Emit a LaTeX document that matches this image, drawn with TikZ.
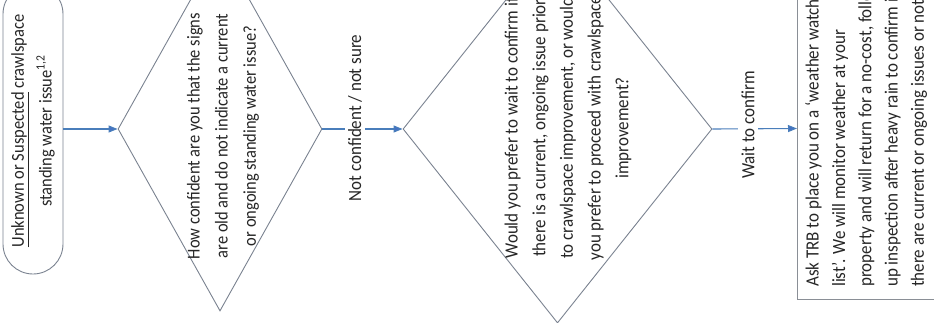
\documentclass[tikz,border=0pt]{standalone}
\usepackage{fontspec}
\setmainfont{Carlito}
\usetikzlibrary{shapes.geometric, arrows.meta}

\begin{document}
\begin{tikzpicture}[x=1pt, y=1pt,
  startbox/.style={draw=shapec, line width=0.9pt, rectangle, rounded corners=30pt, inner sep=0pt},
  decision/.style={draw=shapec, line width=0.9pt, diamond, inner sep=0pt},
  actbox/.style={draw=boxc, line width=1pt, rectangle, inner sep=0pt},
  txt/.style={rotate=90, yscale=1.1, align=center, inner sep=0pt, text=txtc, font=\fontsize{17}{25.2}\selectfont},
  lbl/.style={rotate=90, yscale=1.1, fill=white, inner sep=3pt, text=txtc, font=\fontsize{17}{20}\selectfont},
  flow/.style={draw=flowc, line width=1.1pt, -{Triangle[length=9pt, width=7pt, fill=tipc]}}]

% flowchart colours
\definecolor{txtc}{HTML}{262626}
\definecolor{shapec}{HTML}{7A8290}
\definecolor{boxc}{HTML}{8A8F96}
\definecolor{flowc}{HTML}{4A7EBB}
\definecolor{tipc}{HTML}{4472C4}

\useasboundingbox (0,0) rectangle (934,322);
\clip (0,0) rectangle (934,322);

%% shapes
\node [startbox, minimum width=60pt, minimum height=290pt] at (33,193) (start) {};
\node [decision, minimum width=204pt, minimum height=364pt] at (220,193) (q1) {};
\node [decision, minimum width=309pt, minimum height=388pt] at (557.5,193) (q2) {};
\node [actbox, minimum width=220pt, minimum height=342pt, anchor=south west] at (797,22) (act) {};

%% texts
\node [txt, font=\fontsize{16.5}{25.2}\selectfont] at (33,191) (starttxt) {\underline{Unknown or Suspected} crawlspace\\standing water issue\textsuperscript{1,2}};
\node [txt, font=\fontsize{16.5}{25.5}\selectfont] at (223,186) (q1txt) {How confident are you that the signs\\are old and do not indicate a current\\or ongoing standing water issue?};
\node [txt] at (568,194) (q2txt) {Would you prefer to wait to confirm if\\there is a current, ongoing issue prior\\to crawlspace improvement, or would\\you prefer to proceed with crawlspace\\improvement?};
\node [txt, align=left, anchor=north west, font=\fontsize{17}{23.9}\selectfont] at (805,35) (acttxt) {Ask TRB to place you on a ‘weather watch\\list’. We will monitor weather at your\\property and will return for a no-cost, follow-\\up inspection after heavy rain to confirm if\\there are current or ongoing issues or not.};

%% connectors
\draw [flow] (start.east) -- (q1.west);
\draw [flow] (q1.east) -- (q2.west);
\draw [flow] (q2.east) -- (act.west);
\node [lbl] at (355,204) (lbl1) {Not confident / not sure};
\node [lbl] at (748,197) (lbl2) {Wait to confirm};
\end{tikzpicture}
\end{document}
